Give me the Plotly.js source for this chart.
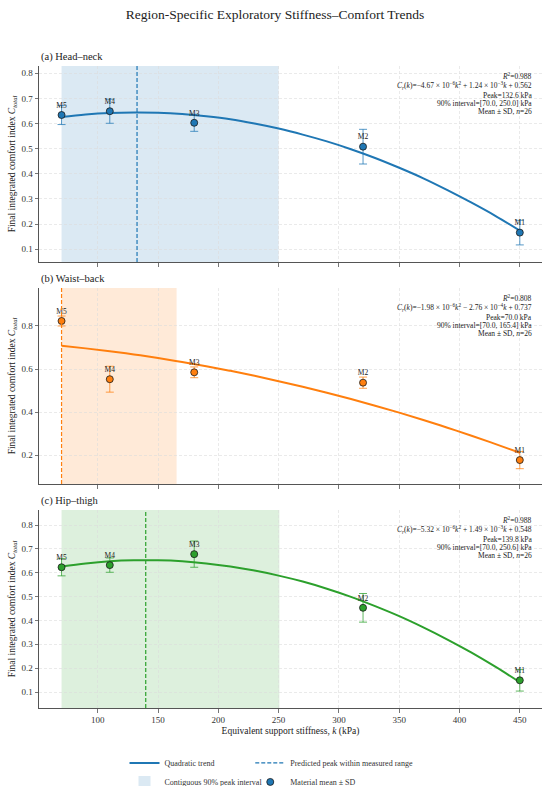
<!DOCTYPE html>
<html><head><meta charset="utf-8">
<script src="https://cdn.plot.ly/plotly-3.0.1.min.js"></script>
<style>html,body{margin:0;padding:0;background:#fff}</style>
</head><body><div id="chart" style="width:550px;height:786px"></div>
<script>
// ---- data ----
const materials = ['M1', 'M2', 'M3', 'M4', 'M5'];
const stiffness = [450, 320, 180, 110, 70];
const headMean  = [0.166, 0.508, 0.603, 0.649, 0.634];
const headSD    = [0.049, 0.069, 0.034, 0.048, 0.038];
const waistMean = [0.178, 0.537, 0.585, 0.553, 0.823];
const waistSD   = [0.040, 0.026, 0.025, 0.060, 0.023];
const hipMean   = [0.149, 0.453, 0.678, 0.632, 0.623];
const hipSD     = [0.045, 0.060, 0.055, 0.030, 0.036];

const trendK     = [70, 90, 110, 130, 150, 170, 190, 210, 230, 250, 270, 290, 310, 330, 350, 370, 390, 410, 430, 450];
const headTrend  = [0.626, 0.636, 0.642, 0.644, 0.643, 0.638, 0.629, 0.617, 0.600, 0.580, 0.556, 0.529, 0.498, 0.463, 0.424, 0.382, 0.335, 0.285, 0.232, 0.174];
const waistTrend = [0.708, 0.696, 0.683, 0.668, 0.651, 0.633, 0.613, 0.592, 0.569, 0.544, 0.518, 0.490, 0.461, 0.430, 0.398, 0.364, 0.328, 0.291, 0.252, 0.212];
const hipTrend   = [0.626, 0.639, 0.648, 0.652, 0.652, 0.648, 0.639, 0.626, 0.609, 0.588, 0.563, 0.533, 0.499, 0.460, 0.418, 0.371, 0.320, 0.265, 0.205, 0.141];

const panelTitles  = ['(a) Head–neck', '(b) Waist–back', '(c) Hip–thigh'];
const r2Values     = ['0.988', '0.808', '0.988'];
const coefA        = ['−4.67', '−1.98', '−5.32'];
const expA         = ['−6', '−6', '−6'];
const signB        = ['+', '−', '+'];
const coefB        = ['1.24', '2.76', '1.49'];
const expB         = ['−3', '−4', '−3'];
const coefC        = ['0.562', '0.737', '0.548'];
const peakK        = [132.6, 70.0, 139.8];
const intervalLow  = [70.0, 70.0, 70.0];
const intervalHigh = [250.0, 165.4, 250.6];
const sampleN      = 26;
const xTicks       = [100, 150, 200, 250, 300, 350, 400, 450];

// ---- styling ----
const colors = ['#1f77b4', '#ff7f0e', '#2ca02c'];
const errColors = ['rgba(31,119,180,0.75)', 'rgba(255,127,14,0.75)', 'rgba(44,160,44,0.75)'];
const shadeColors = ['rgba(31,119,180,0.16)', 'rgba(255,127,14,0.16)', 'rgba(44,160,44,0.16)'];
const yRanges = [[0.049, 0.829], [0.067, 0.976], [0.033, 0.863]];
const yTickSets = [[0.1,0.2,0.3,0.4,0.5,0.6,0.7,0.8], [0.2,0.4,0.6,0.8], [0.1,0.2,0.3,0.4,0.5,0.6,0.7,0.8]];
const domains = [[0.6947, 1], [0.3489, 0.6542], [0, 0.3084]];
const panelHeights = [196, 196, 198];
const means = [headMean, waistMean, hipMean];
const sds = [headSD, waistSD, hipSD];
const trends = [headTrend, waistTrend, hipTrend];
const FONT = 'Liberation Serif, Times New Roman, serif';

const traces = [];
const shapes = [];
const annotations = [];
const layout = {
  width: 550, height: 786,
  margin: {l: 39, r: 8, t: 66, b: 78, autoexpand: false},
  paper_bgcolor: '#fff', plot_bgcolor: '#fff',
  font: {family: FONT, color: '#222', size: 9},
  title: {text: 'Region-Specific Exploratory Stiffness–Comfort Trends', font: {family: FONT, size: 13.5, color: '#222'},
          x: 0.5, xanchor: 'center', y: 0.982, yanchor: 'middle'},
  showlegend: true,
  legend: {x: 0.17, xanchor: 'left', y: -0.063, yanchor: 'top', orientation: 'v',
           font: {family: FONT, size: 8, color: '#333'}, bgcolor: 'rgba(0,0,0,0)', tracegroupgap: 0},
  legend2: {x: 0.42, xanchor: 'left', y: -0.063, yanchor: 'top', orientation: 'v',
            font: {family: FONT, size: 8, color: '#333'}, bgcolor: 'rgba(0,0,0,0)', tracegroupgap: 0}
};

for (let p = 0; p < 3; p++) {
  const xa = p === 0 ? 'x' : 'x' + (p + 1);
  const ya = p === 0 ? 'y' : 'y' + (p + 1);
  const xKey = p === 0 ? 'xaxis' : 'xaxis' + (p + 1);
  const yKey = p === 0 ? 'yaxis' : 'yaxis' + (p + 1);

  layout[xKey] = {
    domain: [0, 1], anchor: ya, range: [51.3, 468.4],
    tickvals: xTicks, showticklabels: p === 2,
    ticks: 'outside', ticklen: 3.5, tickwidth: 0.8, tickcolor: '#555',
    showline: true, linecolor: '#555', linewidth: 1, mirror: false, zeroline: false,
    showgrid: true, gridcolor: '#dcdcdc', gridwidth: 0.6, griddash: '3px,2px',
    tickfont: {family: FONT, size: 9, color: '#333'},
    title: p === 2 ? {text: 'Equivalent support stiffness, <i>k</i> (kPa)', font: {family: FONT, size: 9.5, color: '#222'}, standoff: 3} : {text: ''}
  };
  layout[yKey] = {
    domain: domains[p], anchor: xa, range: yRanges[p], tickvals: yTickSets[p],
    ticks: 'outside', ticklen: 3.5, tickwidth: 0.8, tickcolor: '#555',
    showline: true, linecolor: '#555', linewidth: 1, mirror: false, zeroline: false,
    showgrid: true, gridcolor: '#dcdcdc', gridwidth: 0.6, griddash: '3px,2px',
    tickfont: {family: FONT, size: 9, color: '#333'},
    title: {text: 'Final integrated comfort index <i>C</i><sub><i>total</i></sub>', font: {family: FONT, size: 9.5, color: '#222'}, standoff: 4}
  };

  // shaded 90% interval
  shapes.push({
    type: 'rect', xref: xa, yref: ya + ' domain', x0: intervalLow[p], x1: intervalHigh[p], y0: 0, y1: 1,
    fillcolor: shadeColors[p], line: {width: 0}, layer: 'below',
    showlegend: p === 0, name: 'Contiguous 90% peak interval', legend: 'legend', legendrank: 2
  });
  // peak line
  shapes.push({
    type: 'line', xref: xa, yref: ya + ' domain', x0: peakK[p], x1: peakK[p], y0: 0, y1: 1,
    line: {color: colors[p], width: 1.2, dash: '4px,2px'}, layer: 'above',
    showlegend: p === 0, name: 'Predicted peak within measured range', legend: 'legend2', legendrank: 3
  });

  traces.push({
    type: 'scatter', mode: 'lines', x: trendK, y: trends[p], xaxis: xa, yaxis: ya,
    line: {color: colors[p], width: 2, shape: 'spline'},
    name: 'Quadratic trend', showlegend: p === 0, legend: 'legend', legendrank: 1, hoverinfo: 'skip'
  });
  traces.push({
    type: 'scatter', mode: 'markers+text', x: stiffness, y: means[p], xaxis: xa, yaxis: ya,
    text: materials, textposition: 'top center', textfont: {family: FONT, size: 7.5, color: '#222'},
    marker: {color: colors[p], size: 7, line: {color: '#1a1a1a', width: 0.8}},
    error_y: {type: 'data', array: sds[p], visible: true, color: errColors[p], thickness: 1, width: 4},
    name: 'Material mean ± SD', showlegend: p === 0, legend: 'legend2', legendrank: 4
  });

  // panel title
  annotations.push({
    xref: xa + ' domain', yref: ya + ' domain', x: 0, y: 1, xanchor: 'left', yanchor: 'bottom', yshift: 1,
    text: panelTitles[p], showarrow: false, font: {family: FONT, size: 10.5, color: '#222'}
  });

  // stats block
  const lines = [
    '<i>R</i><sup>2</sup>=' + r2Values[p],
    '<i>C</i><sub><i>r</i></sub>(<i>k</i>)=' + coefA[p] + ' × 10<sup>' + expA[p] + '</sup><i>k</i><sup>2</sup> ' + signB[p] + ' ' + coefB[p] + ' × 10<sup>' + expB[p] + '</sup><i>k</i> + ' + coefC[p],
    'Peak=' + peakK[p].toFixed(1) + ' kPa',
    '90% interval=[' + intervalLow[p].toFixed(1) + ', ' + intervalHigh[p].toFixed(1) + '] kPa',
    'Mean ± SD, <i>n</i>=' + sampleN
  ];
  const offsets = [10, 19.5, 29.3, 37.3, 45.3];
  for (let i = 0; i < lines.length; i++) {
    annotations.push({
      xref: xa + ' domain', yref: ya + ' domain', x: 0.984, y: 1 - offsets[i] / panelHeights[p],
      xanchor: 'right', yanchor: 'middle', text: lines[i], showarrow: false,
      font: {family: FONT, size: 7.5, color: '#222'}
    });
  }
}

layout.shapes = shapes;
layout.annotations = annotations;

Plotly.newPlot('chart', traces, layout, {displayModeBar: false, staticPlot: true});
</script>
</body></html>
